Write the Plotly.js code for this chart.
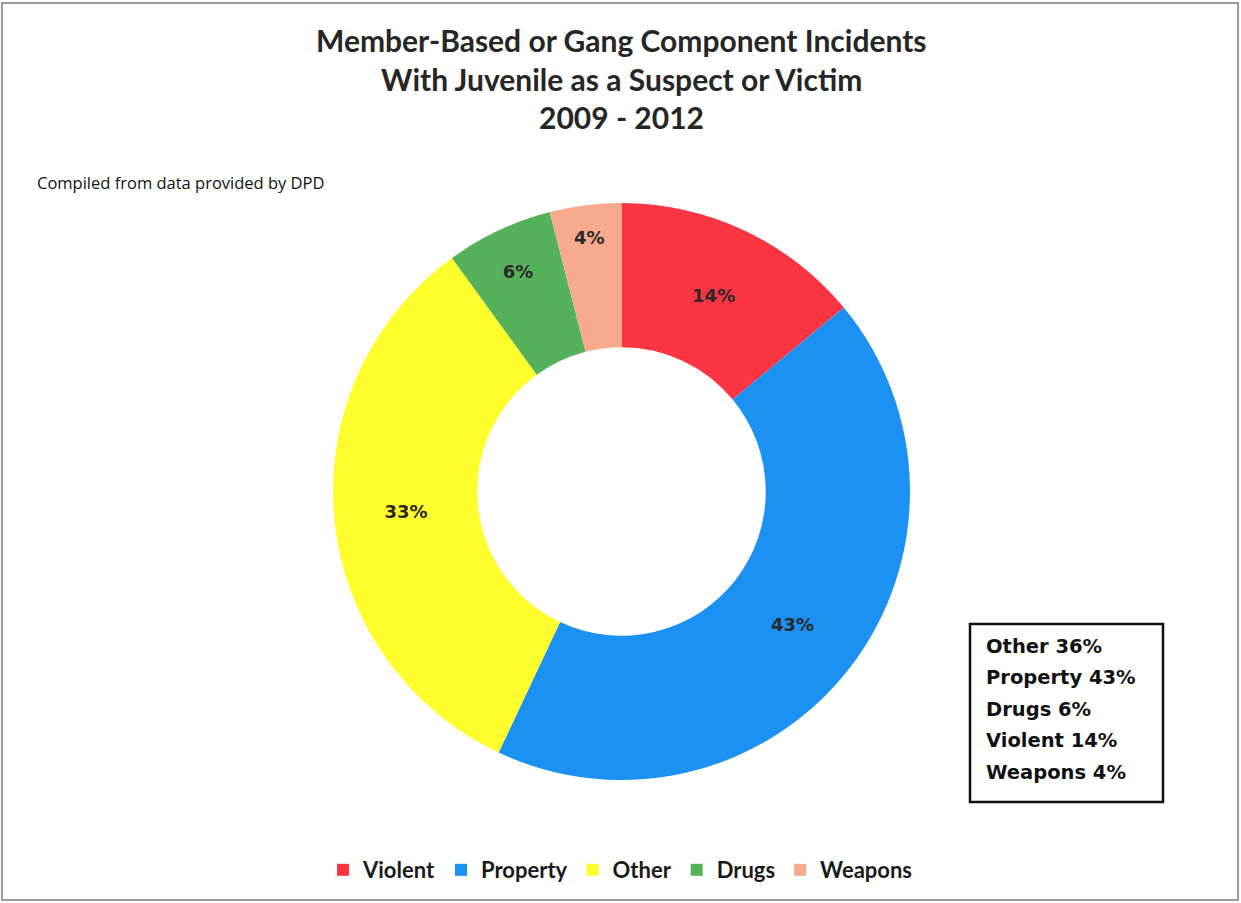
<!DOCTYPE html>
<html>
<head>
<meta charset="utf-8">
<script src="https://cdn.plot.ly/plotly-3.0.1.min.js"></script>
<style>html,body{margin:0;padding:0;background:#fff;}#chart{width:1241px;height:903px;}</style>
</head>
<body>
<div id="chart"></div>
<script>
const categories = ["Violent", "Property", "Other", "Drugs", "Weapons"];
const shares = [14, 43, 33, 6, 4];
const sliceColors = ["#FB3541", "#1B91F4", "#FFFF2E", "#55B15A", "#F8AA8D"];
const boxLabels = ["Other", "Property", "Drugs", "Violent", "Weapons"];
const boxValues = ["36%", "43%", "6%", "14%", "4%"];
const titleLines = ["Member-Based or Gang Component Incidents", "With Juvenile as a Suspect or Victim", "2009 - 2012"];
const sourceNote = "Compiled from data provided by DPD";

const W = 1241, H = 903;
const px = x => x / W;
const py = y => 1 - y / H;

const trace = {
  type: "pie",
  labels: categories.map(c => "<b>" + c + "</b>"),
  values: shares,
  hole: 0.5,
  sort: false,
  direction: "clockwise",
  rotation: 0,
  marker: {colors: sliceColors, line: {width: 0}},
  texttemplate: "<b>%{percent:.0%}</b>",
  textposition: "inside",
  insidetextorientation: "horizontal",
  textfont: {family: "DejaVu Sans", size: 18, color: "#2a2a2a"},
  domain: {x: [px(333), px(910)], y: [py(780), py(203)]},
  hoverinfo: "label+percent"
};

const annotations = [{
  xref: "paper", yref: "paper", x: px(35), y: py(182), xanchor: "left", yanchor: "middle",
  text: sourceNote, showarrow: false,
  font: {family: "Open Sans", size: 16.5, color: "#111"}
}];
titleLines.forEach((t, i) => {
  annotations.push({
    xref: "paper", yref: "paper", x: px(621), y: py(40 + i * 38.5), xanchor: "center", yanchor: "middle",
    text: "<b>" + t + "</b>", showarrow: false,
    font: {family: "Lato", size: 30, color: "#262626"}
  });
});
boxLabels.forEach((lab, i) => {
  annotations.push({
    xref: "paper", yref: "paper", x: px(984), y: py(646 + i * 31.5), xanchor: "left", yanchor: "middle",
    text: "<b>" + lab + " " + boxValues[i] + "</b>", showarrow: false,
    font: {family: "DejaVu Sans", size: 19.5, color: "#111"}
  });
});

const layout = {
  width: W, height: H,
  margin: {l: 0, r: 0, t: 0, b: 0},
  paper_bgcolor: "#ffffff",
  plot_bgcolor: "#ffffff",
  showlegend: true,
  legend: {
    orientation: "h", x: 0.5, xanchor: "center", y: py(870), yanchor: "middle",
    font: {family: "Lato", size: 22, color: "#1a1a1a"},
    itemwidth: 30, traceorder: "normal"
  },
  annotations: annotations,
  shapes: [
    {type: "rect", xref: "paper", yref: "paper", x0: px(2), x1: px(1238), y0: py(900), y1: py(3),
     line: {color: "#9a9a9a", width: 2}},
    {type: "rect", xref: "paper", yref: "paper", x0: px(970), x1: px(1163), y0: py(802), y1: py(624),
     line: {color: "#111", width: 2.5}, fillcolor: "rgba(0,0,0,0)"}
  ]
};

Plotly.newPlot("chart", [trace], layout, {displayModeBar: false, staticPlot: true});
</script>
</body>
</html>
